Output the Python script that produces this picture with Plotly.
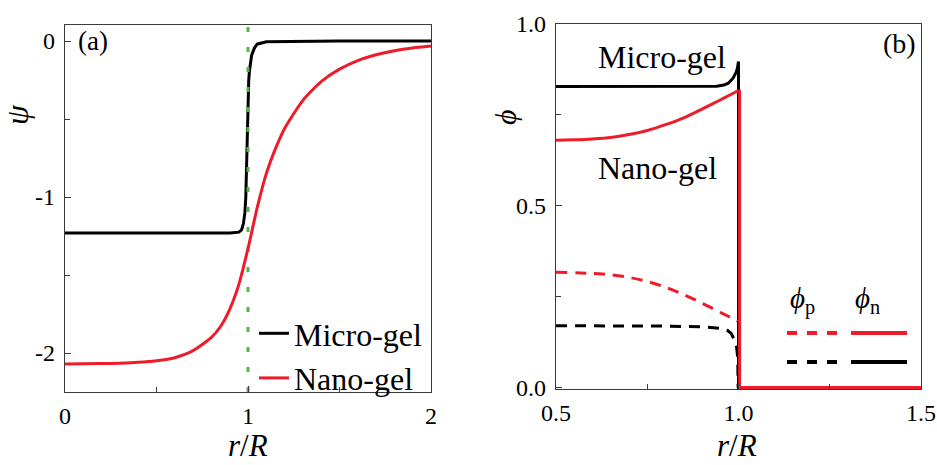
import plotly.graph_objects as go

# ---------------- data ----------------
# Panel (a): electrostatic potential psi vs r/R
r_micro_a = [0, 0.5, 0.9, 0.95, 0.965, 0.975, 0.983, 0.988, 0.992, 0.996, 1.0, 1.004,
             1.008, 1.012, 1.02, 1.035, 1.05, 1.1, 1.5, 2.0]
psi_micro = [-1.23, -1.23, -1.23, -1.225, -1.21, -1.17, -1.10, -1.0, -0.80, -0.57, -0.40,
             -0.25, -0.19, -0.15, -0.09, -0.045, -0.02, -0.005, 0.0, 0.0]

r_nano_a = [0, 0.2, 0.3, 0.4, 0.5, 0.6, 0.7, 0.8, 0.85, 0.9, 0.95, 1.0, 1.05, 1.1, 1.15,
            1.2, 1.3, 1.4, 1.5, 1.6, 1.7, 1.8, 1.9, 2.0]
psi_nano = [-2.07, -2.068, -2.065, -2.06, -2.05, -2.03, -1.985, -1.90, -1.83, -1.72, -1.56,
            -1.33, -1.07, -0.85, -0.69, -0.56, -0.38, -0.26, -0.18, -0.125, -0.088, -0.062,
            -0.044, -0.032]

boundary_r = [1.0, 1.0]
boundary_psi = [-2.25, 0.103]

# Panel (b): volume fractions
r_micro_n = [0.5, 0.6, 0.7, 0.8, 0.9, 0.94, 0.96, 0.972, 0.985, 0.993, 0.997, 1.0, 1.0, 1.5]
phi_micro_n = [0.828, 0.828, 0.828, 0.828, 0.828, 0.829, 0.832, 0.837, 0.851, 0.866, 0.878,
               0.897, 0.0, 0.0]

r_nano_n = [0.5, 0.55, 0.6, 0.65, 0.7, 0.75, 0.8, 0.85, 0.9, 0.95, 0.975, 1.0]
phi_nano_n = [0.680, 0.6815, 0.684, 0.688, 0.696, 0.707, 0.723, 0.742, 0.766, 0.791, 0.804,
              0.817]
r_nano_edge = [1.0, 1.003, 1.003, 1.5]
phi_nano_edge = [0.817, 0.816, 0.0, 0.0]

r_nano_p = [0.5, 0.6, 0.65, 0.7, 0.75, 0.8, 0.85, 0.9, 0.95, 0.99, 0.998]
phi_nano_p = [0.317, 0.314, 0.31, 0.303, 0.292, 0.276, 0.256, 0.232, 0.207, 0.187, 0.183]

r_micro_p = [0.5, 0.7, 0.8, 0.9, 0.95, 0.97, 0.98, 0.99, 0.995, 0.998, 0.999]
phi_micro_p = [0.17, 0.17, 0.169, 0.167, 0.163, 0.157, 0.149, 0.128, 0.11, 0.08, 0.0]

xticks_a = [0, 1, 2]
xticktext_a = ["0", "1", "2"]
yticks_a = [-2, -1, 0]
yticktext_a = ["-2", "-1", "0"]
xticks_b = [0.5, 1.0, 1.5]
xticktext_b = ["0.5", "1.0", "1.5"]
yticks_b = [0.0, 0.5, 1.0]
yticktext_b = ["0.0", "0.5", "1.0"]

# ---------------- styling ----------------
W, H = 937, 465
RED = "#EE1C2A"
BLACK = "#000000"
GREEN = "#4CB848"
FONT = "Liberation Serif, Times New Roman, DejaVu Serif, serif"
AX = "#3a3a3a"


def px(x):
    return x / W


def py(y):
    return 1 - y / H


fig = go.Figure()

# Panel (a)
fig.add_trace(go.Scatter(x=r_micro_a, y=psi_micro, mode="lines", name="Micro-gel",
                         line=dict(color=BLACK, width=3), xaxis="x", yaxis="y"))
fig.add_trace(go.Scatter(x=boundary_r, y=boundary_psi, mode="lines", showlegend=False,
                         line=dict(color=GREEN, width=3, dash="5px,15px"),
                         xaxis="x", yaxis="y"))
fig.add_trace(go.Scatter(x=r_nano_a, y=psi_nano, mode="lines", name="Nano-gel",
                         line=dict(color=RED, width=3, shape="spline", smoothing=0.6),
                         xaxis="x", yaxis="y"))

# Panel (b)
fig.add_trace(go.Scatter(x=r_micro_p, y=phi_micro_p, mode="lines", showlegend=False,
                         line=dict(color=BLACK, width=3, dash="11px,8px"),
                         xaxis="x2", yaxis="y2"))
fig.add_trace(go.Scatter(x=r_micro_n, y=phi_micro_n, mode="lines", showlegend=False,
                         line=dict(color=BLACK, width=3), xaxis="x2", yaxis="y2"))
fig.add_trace(go.Scatter(x=r_nano_p, y=phi_nano_p, mode="lines", showlegend=False,
                         line=dict(color=RED, width=3, dash="11px,8px", shape="spline",
                                   smoothing=0.6),
                         xaxis="x2", yaxis="y2"))
fig.add_trace(go.Scatter(x=r_nano_n, y=phi_nano_n, mode="lines", showlegend=False,
                         line=dict(color=RED, width=3, shape="spline", smoothing=0.6),
                         xaxis="x2", yaxis="y2"))
fig.add_trace(go.Scatter(x=r_nano_edge, y=phi_nano_edge, mode="lines", showlegend=False,
                         line=dict(color=RED, width=3), xaxis="x2", yaxis="y2"))

axis_common = dict(showline=True, linecolor=AX, linewidth=1.3, mirror=True,
                   showgrid=False, zeroline=False, ticks="inside", ticklen=6,
                   tickcolor=AX, tickwidth=1.3, automargin=False,
                   tickfont=dict(family=FONT, size=24, color="black"))

fig.update_layout(
    width=W, height=H,
    margin=dict(l=0, r=0, t=0, b=0),
    paper_bgcolor="white", plot_bgcolor="white",
    showlegend=True,
    legend=dict(x=px(254), y=py(306), xanchor="left", yanchor="top",
                bgcolor="rgba(0,0,0,0)", borderwidth=0,
                font=dict(family=FONT, size=32, color="black"),
                tracegroupgap=0, itemwidth=30),
    xaxis=dict(domain=[px(65), px(431)], range=[0, 2], anchor="y",
               tickvals=xticks_a, ticktext=xticktext_a, ticklabelstandoff=2,
               minor=dict(dtick=0.5, tick0=0, ticks="inside", ticklen=5,
                          tickcolor=AX, tickwidth=1.3),
               **axis_common),
    yaxis=dict(domain=[py(392), py(25)], range=[-2.25, 0.103], anchor="x",
               tickvals=yticks_a, ticktext=yticktext_a, ticklabelstandoff=4,
               minor=dict(dtick=0.5, tick0=0, ticks="inside", ticklen=5,
                          tickcolor=AX, tickwidth=1.3),
               **axis_common),
    xaxis2=dict(domain=[px(556), px(921)], range=[0.5, 1.5], anchor="y2",
                tickvals=xticks_b, ticktext=xticktext_b, ticklabelstandoff=2,
                minor=dict(dtick=0.25, tick0=0.5, ticks="inside", ticklen=5,
                           tickcolor=AX, tickwidth=1.3),
                **axis_common),
    yaxis2=dict(domain=[py(389), py(24)], range=[-0.004, 1.0], anchor="x2",
                tickvals=yticks_b, ticktext=yticktext_b, ticklabelstandoff=4,
                minor=dict(dtick=0.25, tick0=0, ticks="inside", ticklen=5,
                           tickcolor=AX, tickwidth=1.3),
                **axis_common),
)

annotations = [
    dict(text="(a)", x=px(76), y=py(41), xanchor="left", yanchor="middle", size=27),
    dict(text="(b)", x=px(881), y=py(44), xanchor="left", yanchor="middle", size=28),
    dict(text="<i>ψ</i>", x=px(17), y=py(115), xanchor="center", yanchor="middle",
         size=32, textangle=-90),
    dict(text="<i>ϕ</i>", x=px(506), y=py(117), xanchor="center", yanchor="middle",
         size=30, textangle=-90),
    dict(text="<i>r</i>/<i>R</i>", x=px(248), y=0, xanchor="center",
         yanchor="bottom", size=31),
    dict(text="<i>r</i>/<i>R</i>", x=px(737), y=0, xanchor="center",
         yanchor="bottom", size=31),
    dict(text="Micro-gel", x=px(596), y=py(57), xanchor="left", yanchor="middle", size=32),
    dict(text="Nano-gel", x=px(596), y=py(168), xanchor="left", yanchor="middle", size=32),
    dict(text="<i>ϕ</i><sub>p</sub>", x=px(802), y=py(300), xanchor="center",
         yanchor="middle", size=29),
    dict(text="<i>ϕ</i><sub>n</sub>", x=px(867), y=py(300), xanchor="center",
         yanchor="middle", size=29),
]
for a in annotations:
    size = a.pop("size")
    fig.add_annotation(xref="paper", yref="paper", showarrow=False,
                       font=dict(family=FONT, size=size, color="black"), **a)

# Legend key for panel (b)
leg_rows = [(RED, 333), (BLACK, 362)]
for color, yy in leg_rows:
    fig.add_shape(type="line", xref="paper", yref="paper",
                  x0=px(787), x1=px(839), y0=py(yy), y1=py(yy),
                  line=dict(color=color, width=4, dash="10px,10px"))
    fig.add_shape(type="line", xref="paper", yref="paper",
                  x0=px(851), x1=px(907), y0=py(yy), y1=py(yy),
                  line=dict(color=color, width=4))

fig.write_html("out.html")
